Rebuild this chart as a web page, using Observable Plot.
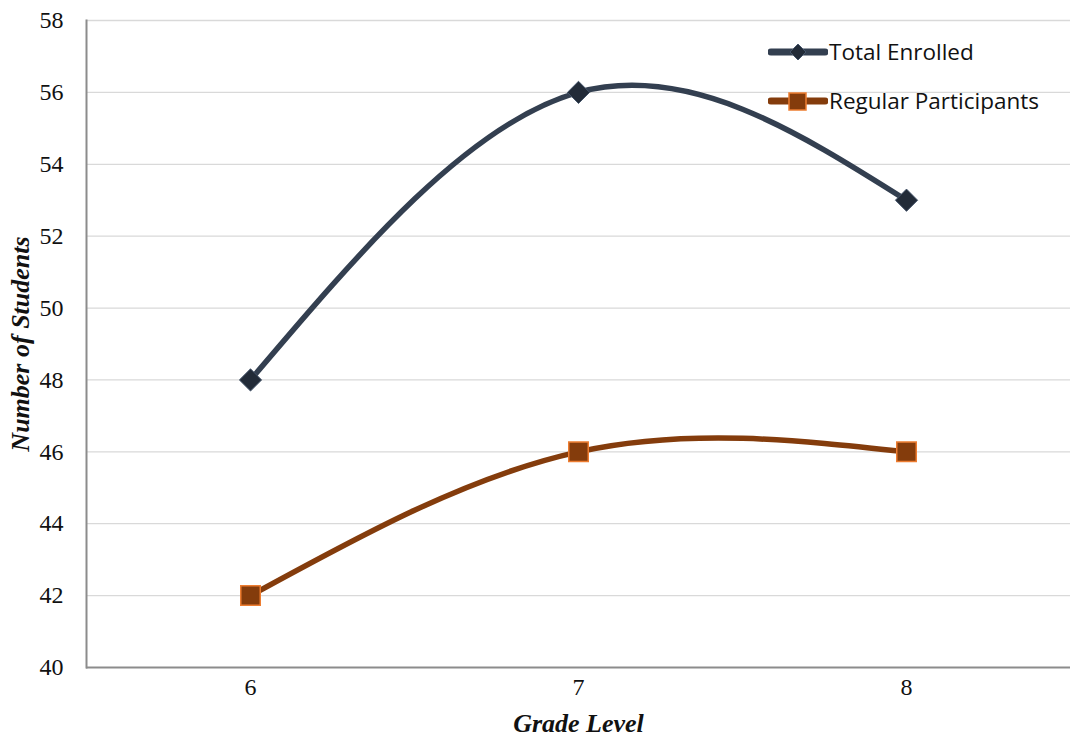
<!DOCTYPE html>
<html><head><meta charset="utf-8">
<script src="https://cdn.jsdelivr.net/npm/d3@7"></script>
<script src="https://cdn.jsdelivr.net/npm/@observablehq/plot@0.6"></script>
<style>
body{margin:0;background:#fff;}
#wrap{position:relative;width:1074px;height:748px;}
#legend{position:absolute;left:768px;top:27px;font-family:"Open Sans","Liberation Sans",sans-serif;font-size:22.5px;color:#111;}
#legend .row{display:flex;align-items:center;height:49px;}
#legend svg{margin-right:1px;}
</style>
</head><body>
<div id="wrap"><div id="legend"></div></div>
<script>
const grades = ["6", "7", "8"];
const totalEnrolled = [48, 56, 53];
const regularParticipants = [42, 46, 46];
const yTicks = [40, 42, 44, 46, 48, 50, 52, 54, 56, 58];
const seriesNames = ["Total Enrolled", "Regular Participants"];
const lineColors = ["#333f50", "#843c0c"];

const data = [];
grades.forEach((g, i) => {
  data.push({grade: g, value: totalEnrolled[i], series: seriesNames[0]});
  data.push({grade: g, value: regularParticipants[i], series: seriesNames[1]});
});
const tot = data.filter(d => d.series === seriesNames[0]);
const reg = data.filter(d => d.series === seriesNames[1]);

const serif = "Liberation Serif";
const chart = Plot.plot({
  width: 1074, height: 748,
  marginLeft: 86, marginRight: 4, marginTop: 20, marginBottom: 81,
  style: {fontFamily: "'Liberation Serif', 'Times New Roman', serif", color: "#111", background: "#fff"},
  x: {type: "point", domain: grades, padding: 0.5, label: null, axis: null},
  y: {domain: [40, 58], label: null, axis: null},
  marks: [
    Plot.ruleY(yTicks.filter(t => t > 40), {stroke: "#d9d9d9", strokeWidth: 1.3}),
    Plot.text(yTicks, {y: d => d, frameAnchor: "left", textAnchor: "end", dx: -23, fontSize: 24, fontFamily: serif, fill: "#111"}),
    Plot.text(grades, {x: d => d, frameAnchor: "bottom", dy: 27, fontSize: 24, fontFamily: serif, fill: "#111"}),
    Plot.ruleY([40], {stroke: "#8c8c8c", strokeWidth: 2}),
    Plot.line(tot, {x: "grade", y: "value", stroke: lineColors[0], strokeWidth: 5.5, curve: "natural"}),
    Plot.line(reg, {x: "grade", y: "value", stroke: lineColors[1], strokeWidth: 5.5, curve: "natural"}),
    Plot.dot(tot, {x: "grade", y: "value", symbol: "diamond2", r: 10, fill: "#222b38", stroke: "#44546a", strokeWidth: 1}),
    Plot.dot(reg, {x: "grade", y: "value", symbol: "square", r: 11, fill: "#843c0c", stroke: "#ed7d31", strokeWidth: 1.5}),
    Plot.frame({anchor: "left", stroke: "#8c8c8c", strokeWidth: 2}),
    Plot.text(["Grade Level"], {frameAnchor: "bottom", dy: 64, fontSize: 26, fontFamily: serif, fontWeight: "bold", fontStyle: "italic", fill: "#111"}),
    Plot.text(["Number of Students"], {frameAnchor: "left", textAnchor: "middle", dx: -66, rotate: -90, fontSize: 26, fontFamily: serif, fontWeight: "bold", fontStyle: "italic", fill: "#111"})
  ]
});
document.getElementById("wrap").prepend(chart);

const legend = document.getElementById("legend");
legend.innerHTML = `
<div class="row"><svg width="60" height="20"><line x1="3" y1="10" x2="57" y2="10" stroke="${lineColors[0]}" stroke-width="7" stroke-linecap="round"/><path d="M30 2 L38 10 L30 18 L22 10 Z" fill="#222b38" stroke="#44546a"/></svg>${seriesNames[0]}</div>
<div class="row"><svg width="60" height="20"><line x1="3" y1="10" x2="57" y2="10" stroke="${lineColors[1]}" stroke-width="7" stroke-linecap="round"/><rect x="21" y="2" width="17" height="17" fill="#843c0c" stroke="#ed7d31" stroke-width="1.5"/></svg>${seriesNames[1]}</div>`;
</script>
</body></html>
